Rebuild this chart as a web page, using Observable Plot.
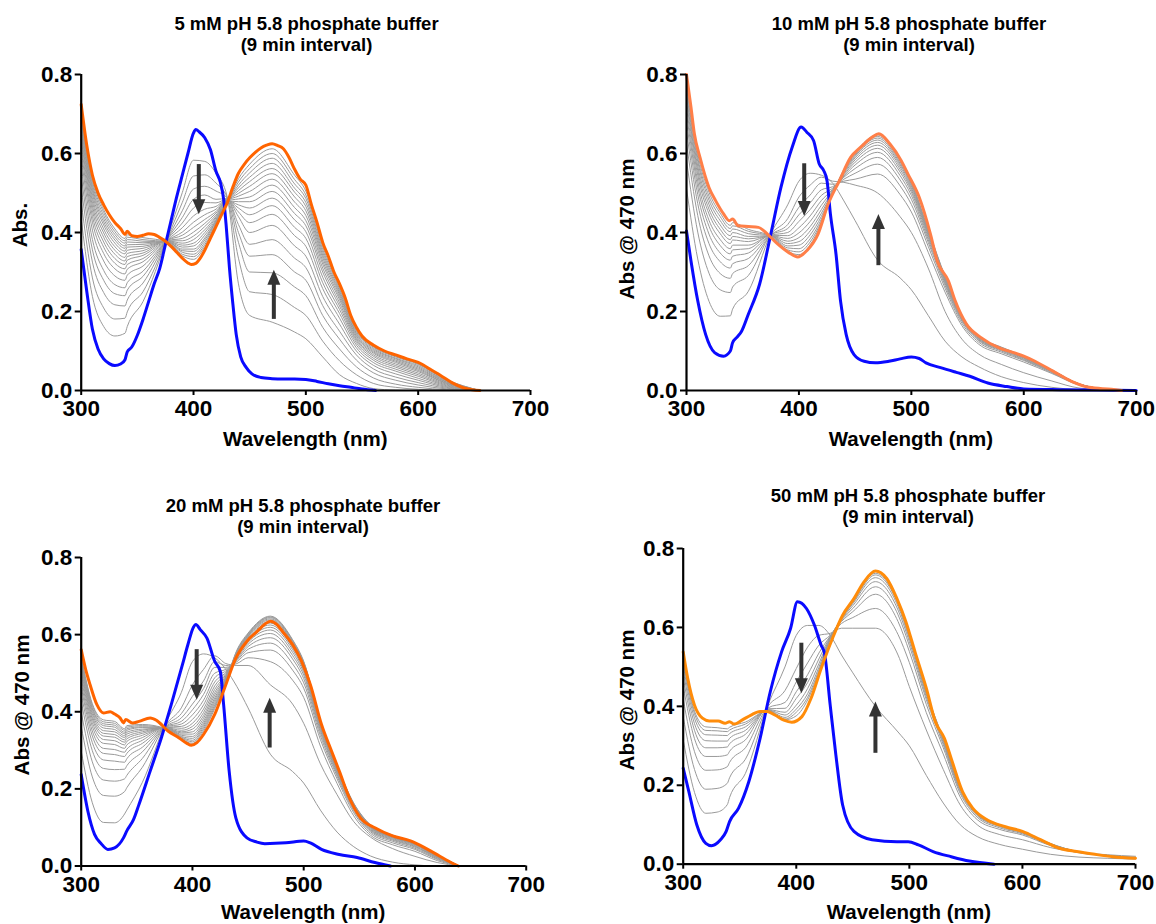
<!DOCTYPE html>
<html><head><meta charset="utf-8">
<script src="https://cdn.jsdelivr.net/npm/d3@7"></script>
<script src="https://cdn.jsdelivr.net/npm/@observablehq/plot@0.6"></script>
<style>
body{margin:0;background:#fff;}
#root{position:relative;width:1156px;height:924px;font-family:"Liberation Sans",Arial,sans-serif;font-weight:bold;color:#000;overflow:hidden;}
.lbl{position:absolute;white-space:nowrap;line-height:1;transform:translate(-50%,-50%);}
.panel{position:absolute;}
.panel svg{overflow:visible;}
</style></head><body><div id="root"></div>
<script>
// ---------- shared ticks & text ----------
const xTicks = [300, 400, 500, 600, 700];
const yTicks = [0, 0.2, 0.4, 0.6, 0.8];
const titleLine1 = ["5 mM pH 5.8 phosphate buffer", "10 mM pH 5.8 phosphate buffer", "20 mM pH 5.8 phosphate buffer", "50 mM pH 5.8 phosphate buffer"];
const titleLine2 = "(9 min interval)";
const yLabels = ["Abs.", "Abs @ 470 nm", "Abs @ 470 nm", "Abs @ 470 nm"];
const xLabel = "Wavelength (nm)";

// ---------- panel 1 : 5 mM ----------
const p1BlueWl = [300,305,310,315,320,325,330,335,339,341,345,350,355,360,365,370,375,380,385,390,395,400,402,405,410,415,420,424,427,429,432,435,438,442,447,452,460,470,480,490,500,510,520,530,540,550,562];
const p1Blue = [0.357,0.25,0.155,0.105,0.08,0.068,0.063,0.067,0.078,0.098,0.11,0.14,0.18,0.225,0.27,0.31,0.37,0.43,0.49,0.545,0.60,0.652,0.661,0.655,0.64,0.61,0.555,0.526,0.48,0.42,0.31,0.22,0.142,0.085,0.058,0.042,0.033,0.03,0.029,0.029,0.028,0.023,0.017,0.012,0.008,0.004,0];
const p1OrangeWl = [300,305,310,315,320,325,330,335,339,341,345,350,355,360,365,370,375,380,385,390,395,398,402,406,410,415,420,425,430,435,440,445,450,455,460,465,470,475,480,485,490,495,500,505,510,515,520,525,530,535,540,545,550,560,570,580,590,600,605,610,620,630,640,648,655];
const p1Orange = [0.724,0.62,0.545,0.50,0.47,0.445,0.425,0.41,0.395,0.403,0.392,0.39,0.393,0.397,0.395,0.387,0.378,0.365,0.35,0.335,0.323,0.319,0.322,0.335,0.355,0.385,0.415,0.445,0.475,0.515,0.55,0.572,0.589,0.603,0.614,0.621,0.625,0.62,0.612,0.59,0.56,0.535,0.52,0.47,0.425,0.375,0.34,0.30,0.27,0.235,0.19,0.16,0.138,0.115,0.10,0.09,0.08,0.071,0.064,0.055,0.038,0.02,0.007,0.002,0];
const p1GrayWl = [300,310,320,330,339,341,355,377,390,400,410,420,430,440,450,470,490,500,515,530,545,560,580,600,625,655];
const p1Gray = [
[.434,.238,.162,.138,.145,.162,.225,.391,.501,.583,.58,.55,.49,.27,.19,.173,.148,.131,.085,.04,.018,.005,.001,0,0,0],
[.478,.285,.209,.181,.183,.199,.25,.388,.476,.543,.546,.525,.488,.335,.25,.243,.21,.19,.125,.075,.04,.018,.008,.003,.001,0],
[.515,.325,.248,.217,.214,.229,.272,.386,.455,.51,.517,.505,.487,.375,.30,.298,.262,.24,.16,.105,.06,.032,.016,.008,.002,0],
[.544,.356,.279,.245,.24,.254,.289,.385,.438,.484,.495,.484,.486,.40,.34,.344,.30,.279,.19,.13,.077,.045,.026,.014,.004,0],
[.568,.382,.304,.268,.26,.273,.302,.384,.424,.462,.476,.475,.485,.42,.37,.382,.335,.311,.215,.15,.09,.055,.034,.02,.006,0],
[.59,.406,.328,.29,.279,.292,.315,.382,.412,.442,.459,.466,.484,.44,.40,.418,.366,.34,.238,.168,.10,.064,.042,.026,.008,0],
[.608,.426,.347,.308,.295,.307,.326,.381,.401,.426,.445,.459,.483,.452,.425,.446,.392,.365,.258,.183,.108,.071,.049,.031,.01,0],
[.623,.441,.363,.322,.308,.319,.334,.381,.393,.413,.433,.453,.482,.462,.445,.468,.413,.385,.273,.195,.115,.077,.054,.036,.012,0],
[.636,.455,.376,.334,.319,.33,.342,.38,.385,.401,.423,.449,.481,.47,.462,.487,.432,.402,.287,.205,.121,.082,.059,.04,.014,0],
[.647,.467,.388,.345,.328,.339,.348,.379,.379,.391,.415,.444,.48,.478,.478,.504,.448,.417,.30,.214,.126,.087,.063,.044,.016,0],
[.657,.478,.399,.355,.337,.347,.354,.379,.373,.382,.407,.44,.48,.485,.49,.52,.463,.43,.31,.222,.13,.091,.067,.048,.018,0],
[.667,.488,.409,.364,.346,.355,.36,.378,.368,.373,.40,.437,.479,.492,.504,.535,.477,.443,.32,.23,.134,.095,.071,.051,.019,0],
[.676,.498,.419,.373,.353,.363,.365,.378,.363,.366,.393,.433,.479,.499,.517,.549,.49,.455,.328,.236,.138,.098,.074,.054,.021,0],
[.684,.507,.427,.381,.36,.369,.37,.377,.358,.358,.386,.43,.478,.506,.529,.562,.502,.466,.336,.242,.142,.101,.077,.057,.022,0],
[.691,.514,.435,.388,.366,.376,.374,.377,.354,.352,.381,.428,.478,.513,.54,.575,.512,.476,.343,.247,.145,.104,.08,.06,.024,0],
[.698,.522,.443,.395,.373,.382,.378,.376,.35,.345,.375,.425,.477,.52,.551,.588,.523,.486,.35,.252,.149,.107,.082,.063,.025,0],
[.706,.53,.451,.402,.379,.388,.382,.376,.345,.339,.369,.422,.477,.528,.562,.60,.534,.495,.357,.257,.152,.11,.085,.066,.027,0],
[.713,.538,.458,.409,.385,.394,.387,.376,.341,.332,.364,.419,.476,.536,.573,.612,.545,.505,.364,.262,.156,.112,.087,.068,.028,0]
];
const p1ArrowX = [404.7, 471.5];
const p1ArrowFrom = [0.572, 0.18];
const p1ArrowTo = [0.446, 0.306];

// ---------- panel 2 : 10 mM ----------
const p2BlueWl = [300,304,310,317,325,333,339,341,345,349,355,365,375,384,394,402,407,413,418,422,425,428,433,437,442,449,458,468,480,490,500,507,513,526,540,552,568,585,600,632,665,700];
const p2Blue = [0.404,0.328,0.227,0.142,0.096,0.087,0.10,0.121,0.135,0.15,0.193,0.269,0.396,0.514,0.616,0.667,0.654,0.633,0.574,0.557,0.531,0.447,0.345,0.227,0.142,0.091,0.074,0.07,0.074,0.08,0.085,0.081,0.07,0.058,0.046,0.036,0.019,0.01,0.004,0.002,0.001,0];
const p2OrangeWl = [300,304,307,312,320,326,333,338,341,346,355,364,372,381,391,399,407,417,426,436,446,455,465,471,481,491,497,507,517,523,533,539,549,562,578,591,600,610,626,642,658,678,687];
const p2Orange = [0.80,0.717,0.65,0.59,0.514,0.48,0.447,0.43,0.434,0.417,0.415,0.413,0.396,0.371,0.349,0.338,0.354,0.396,0.472,0.531,0.59,0.616,0.641,0.65,0.624,0.582,0.548,0.489,0.396,0.328,0.277,0.227,0.168,0.134,0.108,0.096,0.087,0.074,0.049,0.024,0.008,0.003,0];
const p2GrayWl = [300,310,320,330,339,341,355,375,390,400,410,420,430,440,450,470,490,500,515,530,545,560,580,600,625,650,685];
const p2Gray = [
[.511,.333,.226,.188,.189,.206,.251,.397,.47,.53,.55,.545,.525,.48,.43,.33,.285,.255,.19,.125,.085,.06,.035,.02,.008,.002,0],
[.582,.401,.297,.255,.248,.262,.291,.396,.435,.49,.52,.54,.53,.527,.52,.50,.44,.40,.31,.20,.13,.092,.066,.045,.024,.006,0],
[.626,.443,.341,.296,.284,.296,.316,.394,.42,.464,.495,.525,.522,.53,.535,.548,.496,.452,.35,.249,.164,.117,.093,.072,.043,.013,0],
[.657,.473,.372,.326,.31,.321,.334,.394,.41,.445,.475,.508,.516,.535,.55,.573,.518,.471,.365,.259,.17,.122,.097,.076,.045,.014,0],
[.681,.496,.396,.348,.33,.34,.348,.393,.40,.428,.458,.494,.512,.54,.562,.59,.533,.484,.375,.266,.175,.126,.10,.078,.047,.014,0],
[.701,.515,.416,.367,.346,.356,.359,.393,.392,.412,.442,.481,.509,.543,.571,.603,.544,.494,.382,.271,.178,.128,.102,.08,.048,.015,0],
[.717,.53,.431,.382,.359,.368,.368,.392,.385,.399,.428,.469,.507,.546,.578,.613,.553,.502,.388,.275,.18,.13,.104,.082,.049,.015,0],
[.733,.545,.447,.397,.372,.381,.377,.392,.378,.387,.415,.458,.505,.549,.584,.621,.56,.508,.393,.278,.183,.131,.105,.083,.05,.015,0],
[.745,.557,.459,.408,.382,.39,.384,.391,.372,.377,.404,.449,.503,.552,.589,.628,.566,.513,.397,.281,.184,.133,.106,.084,.05,.015,0],
[.756,.568,.471,.419,.392,.40,.39,.391,.366,.368,.394,.441,.501,.554,.593,.634,.571,.518,.40,.283,.186,.134,.107,.085,.051,.016,0],
[.768,.58,.482,.43,.402,.409,.397,.391,.361,.359,.384,.434,.50,.556,.596,.639,.575,.522,.403,.286,.187,.135,.108,.085,.051,.016,0],
[.778,.589,.492,.44,.41,.417,.403,.39,.356,.351,.376,.428,.498,.558,.599,.643,.579,.525,.406,.287,.188,.136,.109,.086,.052,.016,0],
[.788,.599,.502,.449,.418,.425,.408,.39,.352,.344,.369,.423,.497,.56,.602,.647,.582,.528,.408,.289,.189,.137,.11,.087,.052,.016,0]
];
const p2ArrowX = [404.7, 470.7];
const p2ArrowFrom = [0.574, 0.316];
const p2ArrowTo = [0.442, 0.447];

// ---------- panel 3 : 20 mM ----------
const p3BlueWl = [300,306,312,318,324,330,338,341,347,352,362,372,381,391,396,401,403,407,413,420,425,428,433,439,449,458,465,484,500,506,516,532,548,564,578];
const p3Blue = [0.237,0.142,0.082,0.058,0.043,0.047,0.073,0.091,0.12,0.16,0.246,0.332,0.419,0.522,0.575,0.62,0.626,0.613,0.591,0.531,0.505,0.419,0.246,0.125,0.073,0.062,0.058,0.06,0.065,0.06,0.043,0.03,0.022,0.009,0];
const p3OrangeWl = [300,304,308,314,320,326,330,335,338,340,346,352,362,368,378,388,395,399,404,410,420,429,439,449,458,465,470,476,481,490,498,506,516,525,532,541,551,564,580,596,609,622,630,639];
const p3Orange = [0.561,0.51,0.47,0.419,0.397,0.40,0.394,0.384,0.371,0.38,0.371,0.375,0.384,0.377,0.35,0.332,0.318,0.313,0.32,0.341,0.393,0.462,0.539,0.583,0.608,0.627,0.635,0.626,0.608,0.574,0.531,0.47,0.367,0.298,0.246,0.177,0.125,0.099,0.078,0.065,0.047,0.026,0.013,0];
const p3GrayWl = [300,310,320,330,339,341,355,376,390,400,410,420,430,440,450,470,490,500,515,530,545,560,580,600,620,640];
const p3Gray = [
[.298,.164,.113,.112,.135,.145,.217,.371,.45,.53,.55,.54,.51,.465,.41,.29,.245,.215,.145,.088,.05,.026,.01,.003,0,0],
[.362,.231,.183,.181,.193,.203,.256,.367,.41,.47,.51,.545,.525,.52,.52,.47,.42,.37,.265,.185,.115,.075,.045,.025,.009,0],
[.399,.27,.223,.22,.226,.235,.279,.365,.395,.44,.48,.53,.52,.525,.54,.53,.482,.437,.311,.214,.13,.08,.055,.038,.014,0],
[.427,.299,.253,.25,.251,.26,.296,.363,.384,.42,.46,.515,.515,.53,.553,.56,.508,.461,.328,.226,.138,.085,.06,.043,.017,0],
[.447,.32,.275,.272,.269,.278,.308,.362,.375,.405,.445,.50,.51,.533,.562,.578,.524,.475,.338,.233,.143,.089,.064,.046,.019,0],
[.463,.337,.292,.289,.284,.292,.318,.361,.368,.392,.43,.488,.506,.536,.569,.592,.537,.486,.346,.238,.147,.092,.067,.049,.021,0],
[.475,.35,.305,.302,.295,.303,.326,.36,.362,.38,.418,.477,.502,.539,.575,.603,.546,.495,.352,.242,.15,.094,.069,.051,.022,0],
[.487,.362,.318,.315,.305,.314,.333,.36,.357,.37,.407,.467,.499,.542,.58,.612,.554,.502,.357,.246,.152,.096,.071,.053,.023,0],
[.497,.372,.328,.325,.314,.323,.339,.359,.352,.362,.398,.458,.496,.544,.584,.619,.561,.507,.361,.249,.154,.098,.073,.055,.024,0],
[.505,.381,.337,.334,.321,.33,.344,.358,.348,.355,.39,.45,.493,.546,.588,.625,.566,.512,.364,.251,.156,.10,.074,.056,.025,0],
[.511,.388,.344,.341,.327,.336,.348,.358,.345,.348,.383,.443,.49,.548,.591,.63,.57,.516,.367,.253,.157,.101,.075,.057,.026,0],
[.518,.395,.351,.348,.333,.342,.352,.358,.342,.342,.376,.436,.488,.55,.594,.634,.574,.519,.369,.255,.158,.102,.076,.058,.026,0],
[.524,.401,.358,.354,.338,.347,.355,.357,.339,.336,.37,.43,.486,.552,.596,.638,.578,.522,.372,.256,.159,.103,.077,.059,.027,0],
[.529,.407,.364,.36,.343,.352,.359,.357,.336,.331,.365,.424,.484,.554,.598,.641,.58,.525,.373,.257,.16,.104,.078,.06,.027,0],
[.534,.411,.369,.365,.347,.356,.361,.357,.334,.326,.36,.418,.482,.556,.60,.644,.583,.527,.375,.259,.161,.105,.079,.06,.028,0],
[.539,.417,.374,.37,.352,.36,.364,.356,.332,.322,.355,.413,.48,.558,.602,.646,.585,.529,.376,.259,.162,.106,.079,.061,.028,0],
[.543,.421,.379,.375,.356,.364,.367,.356,.33,.318,.35,.408,.478,.56,.604,.648,.587,.531,.377,.26,.163,.107,.08,.061,.028,0]
];
const p3ArrowX = [403.8, 469.4];
const p3ArrowFrom = [0.561, 0.306];
const p3ArrowTo = [0.431, 0.436];

// ---------- panel 4 : 50 mM ----------
const p4BlueWl = [300,305,312,320,325,333,338,341,349,358,368,377,387,395,401,409,416,422,425,430,435,441,451,467,489,499,508,521,537,553,575];
const p4Blue = [0.243,0.184,0.10,0.053,0.047,0.062,0.083,0.108,0.142,0.209,0.319,0.437,0.538,0.598,0.665,0.648,0.606,0.555,0.534,0.403,0.277,0.15,0.083,0.062,0.057,0.057,0.049,0.032,0.019,0.008,0];
const p4OrangeWl = [300,304,310,317,323,331,337,341,345,352,360,368,374,381,389,396,405,413,422,432,441,451,460,470,480,489,497,505,515,523,531,537,547,556,569,585,600,616,632,648,664,680,700];
const p4Orange = [0.538,0.471,0.403,0.37,0.363,0.363,0.357,0.361,0.355,0.365,0.378,0.387,0.387,0.378,0.365,0.36,0.374,0.42,0.496,0.572,0.631,0.673,0.716,0.743,0.724,0.673,0.614,0.538,0.446,0.361,0.319,0.268,0.184,0.142,0.112,0.095,0.083,0.062,0.041,0.032,0.025,0.019,0.015];
const p4GrayWl = [300,310,320,330,339,341,355,375,390,400,410,420,430,440,450,470,490,500,515,530,545,560,580,600,625,650,675,700];
const p4Gray = [
[.315,.182,.129,.132,.151,.169,.23,.404,.50,.58,.605,.605,.58,.53,.485,.40,.335,.30,.225,.155,.10,.07,.05,.038,.025,.018,.015,.013],
[.373,.24,.19,.192,.205,.219,.266,.40,.44,.496,.55,.58,.585,.598,.598,.598,.53,.45,.34,.24,.15,.10,.075,.062,.042,.03,.024,.02],
[.418,.285,.238,.239,.247,.258,.295,.396,.41,.462,.51,.555,.58,.61,.625,.648,.582,.511,.384,.279,.17,.113,.088,.074,.047,.029,.022,.017],
[.451,.318,.273,.273,.277,.286,.315,.394,.395,.437,.48,.535,.578,.615,.64,.684,.615,.539,.405,.295,.179,.119,.092,.077,.049,.03,.022,.017],
[.472,.339,.295,.295,.297,.305,.329,.392,.385,.42,.46,.52,.577,.618,.648,.703,.632,.554,.417,.303,.184,.123,.095,.079,.05,.03,.022,.016],
[.489,.356,.313,.312,.312,.319,.339,.391,.378,.403,.445,.508,.575,.62,.655,.716,.644,.564,.424,.308,.188,.125,.097,.081,.051,.031,.022,.016],
[.503,.37,.328,.327,.326,.331,.348,.39,.372,.393,.432,.499,.573,.622,.66,.726,.653,.572,.43,.313,.191,.127,.098,.082,.051,.031,.022,.016],
[.514,.381,.339,.338,.336,.34,.355,.389,.368,.385,.423,.492,.571,.623,.663,.733,.659,.577,.434,.316,.192,.128,.099,.082,.052,.031,.022,.016],
[.521,.388,.348,.346,.343,.347,.36,.389,.366,.376,.416,.487,.569,.624,.666,.737,.663,.58,.436,.317,.193,.129,.10,.083,.052,.031,.022,.016]
];
const p4ArrowX = [404.5, 470];
const p4ArrowFrom = [0.56, 0.281];
const p4ArrowTo = [0.433, 0.412];

// ---------- layout & styles ----------
const panels = [
  {blueWl: p1BlueWl, blue: p1Blue, orangeWl: p1OrangeWl, orange: p1Orange, grayWl: p1GrayWl, gray: p1Gray, ax: p1ArrowX, af: p1ArrowFrom, at: p1ArrowTo},
  {blueWl: p2BlueWl, blue: p2Blue, orangeWl: p2OrangeWl, orange: p2Orange, grayWl: p2GrayWl, gray: p2Gray, ax: p2ArrowX, af: p2ArrowFrom, at: p2ArrowTo},
  {blueWl: p3BlueWl, blue: p3Blue, orangeWl: p3OrangeWl, orange: p3Orange, grayWl: p3GrayWl, gray: p3Gray, ax: p3ArrowX, af: p3ArrowFrom, at: p3ArrowTo},
  {blueWl: p4BlueWl, blue: p4Blue, orangeWl: p4OrangeWl, orange: p4Orange, grayWl: p4GrayWl, gray: p4Gray, ax: p4ArrowX, af: p4ArrowFrom, at: p4ArrowTo}
];
const layout = [
  {left: 0,   top: 0,   w: 578, h: 462, ml: 80.7,  mr: 48,   mt: 74, mb: 72,   orangeColor: "#ff6400", title: [306.5, 23.5], xl: [305.3, 439], yl: [20, 225]},
  {left: 578, top: 0,   w: 578, h: 462, ml: 108,   mr: 20.3, mt: 74, mb: 72,   orangeColor: "#ff7f48", title: [909, 23.5],   xl: [910.9, 439], yl: [627, 229]},
  {left: 0,   top: 462, w: 578, h: 462, ml: 80.7,  mr: 52.3, mt: 95, mb: 58.5, orangeColor: "#ff6400", title: [303, 506],   xl: [303.2, 912], yl: [22, 705]},
  {left: 578, top: 462, w: 578, h: 462, ml: 104.7, mr: 21,   mt: 86, mb: 60.3, orangeColor: "#ff8c0a", title: [908, 495.5], xl: [908.9, 912], yl: [627, 700]}
];
const FONT = '"Liberation Sans", Arial, Helvetica, sans-serif';
const arrowHead = {draw(context) { context.moveTo(0, 0); context.lineTo(-6.5, 15); context.lineTo(6.5, 15); context.closePath(); }};

const root = document.getElementById("root");
function addLabel(text, cx, cy, size, rotate) {
  const d = document.createElement("div");
  d.className = "lbl";
  d.textContent = text;
  d.style.left = cx + "px";
  d.style.top = cy + "px";
  d.style.fontSize = size + "px";
  if (rotate) d.style.transform = "translate(-50%,-50%) rotate(-90deg)";
  root.appendChild(d);
}

panels.forEach((p, idx) => {
  const L = layout[idx];
  const grayData = p.gray.flatMap((row, k) => row.map((v, j) => ({wl: p.grayWl[j], v, k})));
  const blueData = p.blueWl.map((wl, j) => ({wl, v: p.blue[j]}));
  const orangeData = p.orangeWl.map((wl, j) => ({wl, v: p.orange[j]}));
  const arrows = p.ax.map((x, j) => ({x, from: p.af[j], to: p.at[j]}));
  const down = arrows.filter(a => a.to < a.from);
  const up = arrows.filter(a => a.to > a.from);
  const chart = Plot.plot({
    width: L.w, height: L.h,
    marginLeft: L.ml, marginRight: L.mr, marginTop: L.mt, marginBottom: L.mb,
    style: {fontFamily: FONT, fontWeight: "bold", fontSize: "22.5px", color: "#000", background: "transparent", overflow: "visible"},
    x: {domain: [300, 700]},
    y: {domain: [0, 0.8]},
    marks: [
      Plot.line(grayData, {x: "wl", y: "v", z: "k", stroke: "#9a9a9a", strokeWidth: 1, curve: "monotone-x"}),
      Plot.line(blueData, {x: "wl", y: "v", stroke: "#0a0aff", strokeWidth: 3, curve: "monotone-x"}),
      Plot.line(orangeData, {x: "wl", y: "v", stroke: L.orangeColor, strokeWidth: 3, curve: "monotone-x"}),
      Plot.ruleX(down, {x: "x", y1: "from", y2: "to", insetBottom: 10, stroke: "#333", strokeWidth: 4}),
      Plot.ruleX(up, {x: "x", y1: "to", y2: "from", insetTop: 10, stroke: "#333", strokeWidth: 4}),
      Plot.dot(down, {x: "x", y: "to", symbol: arrowHead, rotate: 180, r: 5, fill: "#333", stroke: "none"}),
      Plot.dot(up, {x: "x", y: "to", symbol: arrowHead, r: 5, fill: "#333", stroke: "none"}),
      Plot.axisX({ticks: xTicks, tickFormat: d => String(d), tickSize: 5, tickPadding: 5, fontSize: 22.5, fontWeight: "bold", label: null, strokeWidth: 2}),
      Plot.axisY({ticks: yTicks, tickFormat: d3.format(".1f"), tickSize: 6, tickPadding: 3, fontSize: 22.5, fontWeight: "bold", label: null, strokeWidth: 2}),
      Plot.ruleY([0], {strokeWidth: 2.2}),
      Plot.ruleX([300], {strokeWidth: 2.2})
    ]
  });
  const holder = document.createElement("div");
  holder.className = "panel";
  holder.style.left = L.left + "px";
  holder.style.top = L.top + "px";
  holder.appendChild(chart);
  root.appendChild(holder);
  addLabel(titleLine1[idx], L.title[0], L.title[1], 18.5, false);
  addLabel(titleLine2, L.title[0], L.title[1] + 21, 18.5, false);
  addLabel(xLabel, L.xl[0], L.xl[1], 20.5, false);
  addLabel(yLabels[idx], L.yl[0], L.yl[1], 20.5, true);
});
</script>
</body></html>
